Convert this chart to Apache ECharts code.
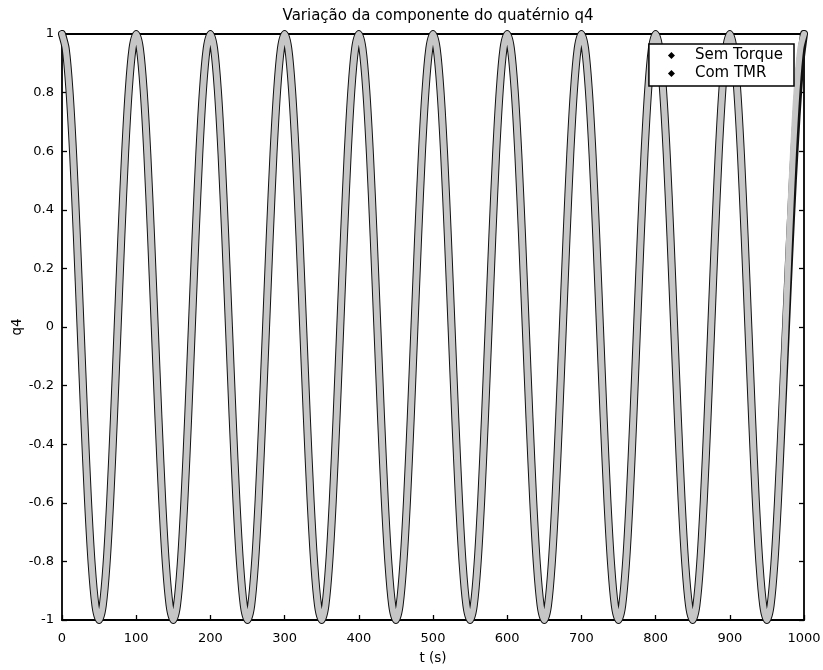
<!DOCTYPE html>
<html>
<head>
<meta charset="utf-8">
<script src="https://cdn.jsdelivr.net/npm/echarts@6/dist/echarts.min.js"></script>
<style>
  html, body { margin: 0; padding: 0; background: #fff; }
  #chart { width: 823px; height: 670px; }
</style>
</head>
<body>
<div id="chart"></div>
<script>
// Quaternion component q4 over time, sampled every 5 s from 0 to 1000 s
const sampleStep = 5;

const q4SemTorque = [
  1, 0.95, 0.81, 0.59, 0.31, 0, -0.31, -0.59, -0.81, -0.95, -1, -0.95, -0.81, -0.59, -0.31, 0, 0.31, 0.59, 0.81, 0.95,
  1, 0.95, 0.81, 0.59, 0.31, 0, -0.31, -0.59, -0.81, -0.95, -1, -0.95, -0.81, -0.59, -0.31, 0, 0.31, 0.59, 0.81, 0.95,
  1, 0.95, 0.81, 0.59, 0.31, 0, -0.31, -0.59, -0.81, -0.95, -1, -0.95, -0.81, -0.59, -0.31, 0, 0.31, 0.59, 0.81, 0.95,
  1, 0.95, 0.81, 0.59, 0.31, 0, -0.31, -0.59, -0.81, -0.95, -1, -0.95, -0.81, -0.59, -0.31, 0, 0.31, 0.59, 0.81, 0.95,
  1, 0.95, 0.81, 0.59, 0.31, 0, -0.31, -0.59, -0.81, -0.95, -1, -0.95, -0.81, -0.59, -0.31, 0, 0.31, 0.59, 0.81, 0.95,
  1, 0.95, 0.81, 0.59, 0.31, 0, -0.31, -0.59, -0.81, -0.95, -1, -0.95, -0.81, -0.59, -0.31, 0, 0.31, 0.59, 0.81, 0.95,
  1, 0.95, 0.81, 0.59, 0.31, 0, -0.31, -0.59, -0.81, -0.95, -1, -0.95, -0.81, -0.59, -0.31, 0, 0.31, 0.59, 0.81, 0.95,
  1, 0.95, 0.81, 0.59, 0.31, 0, -0.31, -0.59, -0.81, -0.95, -1, -0.95, -0.81, -0.59, -0.31, 0, 0.31, 0.59, 0.81, 0.95,
  1, 0.95, 0.81, 0.59, 0.31, 0, -0.31, -0.59, -0.81, -0.95, -1, -0.95, -0.81, -0.59, -0.31, 0, 0.31, 0.59, 0.81, 0.95,
  1, 0.95, 0.81, 0.59, 0.31, 0, -0.31, -0.59, -0.81, -0.95, -1, -0.95, -0.81, -0.59, -0.32, -0.04, 0.24, 0.50, 0.72, 0.90,
  1
];

const q4ComTMR = [
  1, 0.95, 0.81, 0.59, 0.31, 0, -0.31, -0.59, -0.81, -0.95, -1, -0.95, -0.81, -0.59, -0.31, 0, 0.31, 0.59, 0.81, 0.95,
  1, 0.95, 0.81, 0.59, 0.31, 0, -0.31, -0.59, -0.81, -0.95, -1, -0.95, -0.81, -0.59, -0.31, 0, 0.31, 0.59, 0.81, 0.95,
  1, 0.95, 0.81, 0.59, 0.31, 0, -0.31, -0.59, -0.81, -0.95, -1, -0.95, -0.81, -0.59, -0.31, 0, 0.31, 0.59, 0.81, 0.95,
  1, 0.95, 0.81, 0.59, 0.31, 0, -0.31, -0.59, -0.81, -0.95, -1, -0.95, -0.81, -0.59, -0.31, 0, 0.31, 0.59, 0.81, 0.95,
  1, 0.95, 0.81, 0.59, 0.31, 0, -0.31, -0.59, -0.81, -0.95, -1, -0.95, -0.81, -0.59, -0.31, 0, 0.31, 0.59, 0.81, 0.95,
  1, 0.95, 0.81, 0.59, 0.31, 0, -0.31, -0.59, -0.81, -0.95, -1, -0.95, -0.81, -0.59, -0.31, 0, 0.31, 0.59, 0.81, 0.95,
  1, 0.95, 0.81, 0.59, 0.31, 0, -0.31, -0.59, -0.81, -0.95, -1, -0.95, -0.81, -0.59, -0.31, 0, 0.31, 0.59, 0.81, 0.95,
  1, 0.95, 0.81, 0.59, 0.31, 0, -0.31, -0.59, -0.81, -0.95, -1, -0.95, -0.81, -0.59, -0.31, 0, 0.31, 0.59, 0.81, 0.95,
  1, 0.95, 0.81, 0.59, 0.31, 0, -0.31, -0.59, -0.81, -0.95, -1, -0.95, -0.81, -0.59, -0.31, 0, 0.31, 0.59, 0.81, 0.95,
  1, 0.95, 0.81, 0.59, 0.31, 0, -0.31, -0.59, -0.81, -0.95, -1, -0.95, -0.81, -0.59, -0.31, 0, 0.31, 0.59, 0.81, 0.95,
  1
];

const xTicks = { min: 0, max: 1000, interval: 100 };
const yTicks = { min: -1, max: 1, interval: 0.2 };

const seriesNames = ['Sem Torque', 'Com TMR'];
const titleText = 'Variação da componente do quatérnio q4';
const xLabel = 't (s)';
const yLabel = 'q4';

function toPairs(values) {
  return values.map((v, i) => [i * sampleStep, v]);
}

const FONT = '"DejaVu Sans", Verdana, sans-serif';
const chart = echarts.init(document.getElementById('chart'), null, { renderer: 'canvas' });

const boxLine = { show: true, onZero: false, lineStyle: { color: '#000', width: 1.8 } };
const innerTick = { show: true, inside: true, length: 5, lineStyle: { color: '#000', width: 1.3 } };

chart.setOption({
  animation: false,
  backgroundColor: '#fff',
  title: {
    text: titleText,
    left: 433, top: 4, textAlign: 'center',
    textStyle: { fontFamily: FONT, fontSize: 15, fontWeight: 'normal', color: '#000' }
  },
  legend: {
    right: 29, top: 44,
    orient: 'vertical',
    backgroundColor: '#fff',
    borderColor: '#000', borderWidth: 1.5, borderRadius: 0,
    padding: [4, 11, 5, 19],
    itemGap: 3,
    itemWidth: 7, itemHeight: 7,
    textStyle: { fontFamily: FONT, fontSize: 15, color: '#000', padding: [0, 0, 0, 15] },
    data: seriesNames.map(n => ({ name: n, icon: 'diamond', itemStyle: { color: '#000', borderWidth: 0 } }))
  },
  grid: { left: 62, right: 19, top: 34, bottom: 50, containLabel: false, outerBoundsMode: 'none' },
  xAxis: [
    {
      type: 'value', position: 'bottom',
      min: xTicks.min, max: xTicks.max, interval: xTicks.interval,
      name: xLabel, nameLocation: 'middle', nameGap: 31,
      nameTextStyle: { fontFamily: FONT, fontSize: 13.5, color: '#000' },
      axisLine: boxLine, axisTick: innerTick,
      axisLabel: { fontFamily: FONT, fontSize: 13, color: '#000', margin: 12, formatter: v => String(v) },
      splitLine: { show: false }
    },
    {
      type: 'value', position: 'top',
      min: xTicks.min, max: xTicks.max, interval: xTicks.interval,
      axisLine: boxLine, axisTick: innerTick,
      axisLabel: { show: false }, splitLine: { show: false }
    }
  ],
  yAxis: [
    {
      type: 'value', position: 'left',
      min: yTicks.min, max: yTicks.max, interval: yTicks.interval,
      name: yLabel, nameLocation: 'middle', nameGap: 38, nameRotate: 90,
      nameMoveOverlap: false,
      nameTextStyle: { fontFamily: FONT, fontSize: 13.5, color: '#000' },
      axisLine: boxLine, axisTick: innerTick,
      axisLabel: {
        fontFamily: FONT, fontSize: 13, color: '#000', margin: 8,
        formatter: v => String(Math.round(v * 10) / 10)
      },
      splitLine: { show: false }
    },
    {
      type: 'value', position: 'right',
      min: yTicks.min, max: yTicks.max, interval: yTicks.interval,
      axisLine: boxLine, axisTick: innerTick,
      axisLabel: { show: false }, splitLine: { show: false }
    }
  ],
  series: [
    {
      name: seriesNames[0], type: 'line', xAxisIndex: 0, yAxisIndex: 0,
      data: toPairs(q4SemTorque),
      showSymbol: false, symbol: 'none', smooth: 0.25,
      itemStyle: { color: '#000' },
      lineStyle: { color: '#111', width: 8, join: 'round', cap: 'round' },
      z: 2
    },
    {
      name: seriesNames[1], type: 'line', xAxisIndex: 0, yAxisIndex: 0,
      data: toPairs(q4ComTMR),
      showSymbol: false, symbol: 'none', smooth: 0.25,
      itemStyle: { color: '#000' },
      lineStyle: { color: '#c6c6c6', width: 6, join: 'round', cap: 'round' },
      z: 3
    }
  ]
});
</script>
</body>
</html>
